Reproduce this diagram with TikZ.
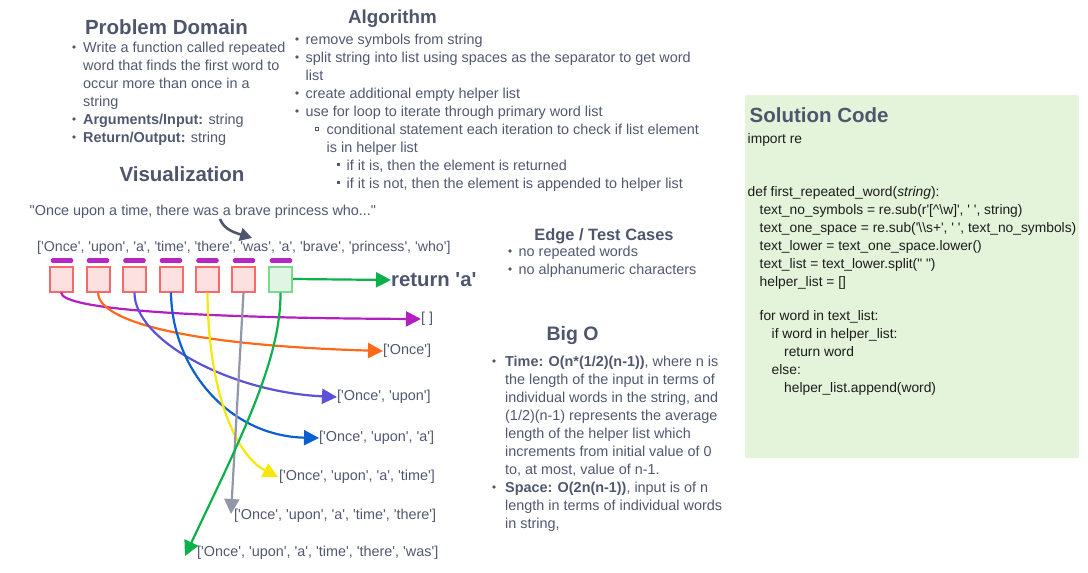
\documentclass[tikz,border=0pt]{standalone}
\usepackage{fontspec}
\setmainfont{Liberation Sans}[Ligatures=TeXOff]
\usetikzlibrary{arrows.meta}
\definecolor{ink}{RGB}{80,88,112}
\definecolor{head}{RGB}{78,86,110}
\definecolor{codeink}{RGB}{28,28,28}
\definecolor{boxred}{RGB}{245,106,106}
\definecolor{fillred}{RGB}{253,225,225}
\definecolor{boxgreen}{RGB}{126,215,142}
\definecolor{fillgreen}{RGB}{224,245,228}
\definecolor{dashpurple}{RGB}{181,38,194}
\definecolor{cpurple}{RGB}{179,31,191}
\definecolor{corange}{RGB}{255,106,26}
\definecolor{cindigo}{RGB}{92,82,214}
\definecolor{cblue}{RGB}{12,95,207}
\definecolor{cyellow}{RGB}{245,232,10}
\definecolor{cgray}{RGB}{145,150,168}
\definecolor{cgreen}{RGB}{13,176,74}
\definecolor{solfill}{RGB}{227,244,218}
\begin{document}
\begin{tikzpicture}[x=1pt,y=-1pt,
  txt/.style={anchor=base west, inner sep=0pt, text=ink, font=\fontsize{14.4}{17}\selectfont},
  codetxt/.style={txt, text=codeink, font=\fontsize{13.8}{17}\selectfont},
  lab/.style={anchor=west, inner sep=0pt, text=ink, font=\fontsize{14.4}{17}\selectfont},
  hd/.style={anchor=base, inner sep=0pt, text=head, font=\fontsize{#1}{#1}\selectfont\bfseries},
  dot/.style={fill=ink},
  wbox/.style={draw=boxred, fill=fillred, line width=2pt, minimum width=23pt, minimum height=25pt, inner sep=0pt},
  gbox/.style={wbox, draw=boxgreen, fill=fillgreen},
  pdash/.style={draw=dashpurple, line width=4.6pt, line cap=round},
  flow/.style={draw=#1, line width=2.2pt, -{Triangle[length=15pt,width=15pt,fill=#1]}}
]
\useasboundingbox (0,0) rectangle (1088,573);

% ---------- Problem Domain ----------
\node[hd=20.5] (pdh) at (166.5,34.3) {Problem Domain};
\fill[dot] (74,47) circle (1.8);
\node[txt] (pd1) at (83,52.7) {Write a function called repeated};
\node[txt] (pd2) at (83,70.7) {word that finds the first word to};
\node[txt] (pd3) at (83,88.7) {occur more than once in a};
\node[txt] (pd4) at (83,106.7) {string};
\fill[dot] (74,119) circle (1.8);
\node[txt] (pd5) at (83,124.7) {\textbf{Arguments/Input:} string};
\fill[dot] (74,137) circle (1.8);
\node[txt] (pd6) at (83,142.7) {\textbf{Return/Output:} string};

% ---------- Algorithm ----------
\node[hd=18.8] (alh) at (392.5,23.3) {Algorithm};
\fill[dot] (297,39) circle (1.8);
\node[txt] (a1) at (305.5,44.5) {remove symbols from string};
\fill[dot] (297,57) circle (1.8);
\node[txt] (a2) at (305.5,62.5) {split string into list using spaces as the separator to get word};
\node[txt] (a3) at (305.5,80.5) {list};
\fill[dot] (297,93) circle (1.8);
\node[txt] (a4) at (305.5,98.5) {create additional empty helper list};
\fill[dot] (297,111) circle (1.8);
\node[txt] (a5) at (305.5,116.5) {use for loop to iterate through primary word list};
\draw[ink, line width=0.7pt] (315,127.2) rectangle (318.6,130.8);
\node[txt] (a6) at (326.5,134.5) {conditional statement each iteration to check if list element};
\node[txt] (a7) at (326.5,152.5) {is in helper list};
\fill[ink] (337.2,163.2) rectangle (340.2,166.2);
\node[txt] (a8) at (346.5,170.5) {if it is, then the element is returned};
\fill[ink] (337.2,181.2) rectangle (340.2,184.2);
\node[txt] (a9) at (346.5,188.5) {if it is not, then the element is appended to helper list};

% ---------- Visualization ----------
\node[hd=20.5] (vh) at (182,181) {Visualization};
\node[txt] (quote) at (29.5,215) {"Once upon a time, there was a brave princess who..."};
\node[txt, font=\fontsize{14.2}{17}\selectfont] (wlist) at (37,251.5) {['Once', 'upon', 'a', 'time', 'there', 'was', 'a', 'brave', 'princess', 'who']};
\coordinate (qa) at (220,219);
\coordinate (qb) at (252,238);
\draw[head, line width=2.6pt, -{Triangle[length=12pt,width=13pt]}] (qa) .. controls (224,230) and (236,233) .. (qb);

\foreach \x in {62,98,134.5,171,207.5,244,281}
  \draw[pdash] (\x-9,260.5) -- (\x+9,260.5);

\node[wbox] (b1) at (61,279) {};
\node[wbox] (b2) at (98,279) {};
\node[wbox] (b3) at (134.5,279) {};
\node[wbox] (b4) at (171,279) {};
\node[wbox] (b5) at (207.5,279) {};
\node[wbox] (b6) at (243.5,279) {};
\node[gbox] (b7) at (280.5,279) {};

\node[anchor=west, inner sep=0pt, text=head, font=\fontsize{20.3}{22}\selectfont\bfseries] (ret) at (391,280) {return 'a'};
\draw[flow=cgreen] (b7.east) -- (ret.west);

\node[lab] (l0) at (421,319) {[ ]};
\node[lab] (l1) at (383,351) {['Once']};
\node[lab] (l2) at (337,397) {['Once', 'upon']};
\node[lab] (l3) at (319,438) {['Once', 'upon', 'a']};
\node[lab] (l4) at (279,477) {['Once', 'upon', 'a', 'time']};
\node[lab] (l5) at (234,516) {['Once', 'upon', 'a', 'time', 'there']};
\node[lab] (l6) at (197,553) {['Once', 'upon', 'a', 'time', 'there', 'was']};
\coordinate (g5) at (231,514);
\coordinate (g6) at (185,556);

\draw[flow=cpurple] (b1.south) .. controls (62,310) and (200,318) .. (l0.west);
\draw[flow=corange] (b2.south) .. controls (98,320) and (180,345) .. (l1.west);
\draw[flow=cindigo] (b3.south) .. controls (134,340) and (230,392) .. (l2.west);
\draw[flow=cblue] (b4.south) .. controls (172,370) and (230,436) .. (l3.west);
\draw[flow=cyellow] (b5.south) .. controls (208,390) and (235,455) .. ([xshift=-1pt]l4.west);
\draw[flow=cgray] (b6.south) -- (g5);
\draw[flow=cgreen] (b7.south) .. controls (281,360) and (240,440) .. (g6);

% ---------- Edge / Test Cases ----------
\node[hd=16.4] (eh) at (604,240) {Edge / Test Cases};
\fill[dot] (510,251) circle (1.8);
\node[txt] (e1) at (518.5,256.5) {no repeated words};
\fill[dot] (510,269) circle (1.8);
\node[txt] (e2) at (518.5,274.5) {no alphanumeric characters};

% ---------- Big O ----------
\node[hd=19.5] (bh) at (572.5,340) {Big O};
\fill[dot] (494,361) circle (1.8);
\node[txt] (o1) at (505,366.5) {\textbf{Time: O(n*(1/2)(n-1))}, where n is};
\node[txt] (o2) at (505,384.5) {the length of the input in terms of};
\node[txt] (o3) at (505,402.5) {individual words in the string, and};
\node[txt] (o4) at (505,420.5) {(1/2)(n-1) represents the average};
\node[txt] (o5) at (505,438.5) {length of the helper list which};
\node[txt] (o6) at (505,456.5) {increments from initial value of 0};
\node[txt] (o7) at (505,474.5) {to, at most, value of n-1.};
\fill[dot] (494,487) circle (1.8);
\node[txt] (o8) at (505,492.5) {\textbf{Space: O(2n(n-1))}, input is of n};
\node[txt] (o9) at (505,510.5) {length in terms of individual words};
\node[txt] (o10) at (505,528.5) {in string,};

% ---------- Solution Code ----------
\node[fill=solfill, rounded corners=1.5pt, minimum width=334pt, minimum height=363pt, anchor=north west, inner sep=0pt] (sol) at (745,95) {};
\node[hd=20.5, anchor=base west] (sh) at (749.5,122.3) {Solution Code};
\node[codetxt] (c1) at (747.5,143.3) {import re};
\node[codetxt] (c2) at (747.5,196.5) {def first\_repeated\_word(\textit{string}):};
\node[codetxt] (c3) at (759.5,214.5) {text\_no\_symbols = re.sub(r'[\textasciicircum\textbackslash w]', ' ', string)};
\node[codetxt] (c4) at (759.5,232.5) {text\_one\_space = re.sub('\textbackslash\textbackslash s+', ' ', text\_no\_symbols)};
\node[codetxt] (c5) at (759.5,250.5) {text\_lower = text\_one\_space.lower()};
\node[codetxt] (c6) at (759.5,268.5) {text\_list = text\_lower.split(" ")};
\node[codetxt] (c7) at (759.5,286.5) {helper\_list = []};
\node[codetxt] (c8) at (759.5,320.7) {for word in text\_list:};
\node[codetxt] (c9) at (771.5,338.7) {if word in helper\_list:};
\node[codetxt] (c10) at (784,356.7) {return word};
\node[codetxt] (c11) at (771.5,374.7) {else:};
\node[codetxt] (c12) at (784,392.7) {helper\_list.append(word)};
\end{tikzpicture}
\end{document}
